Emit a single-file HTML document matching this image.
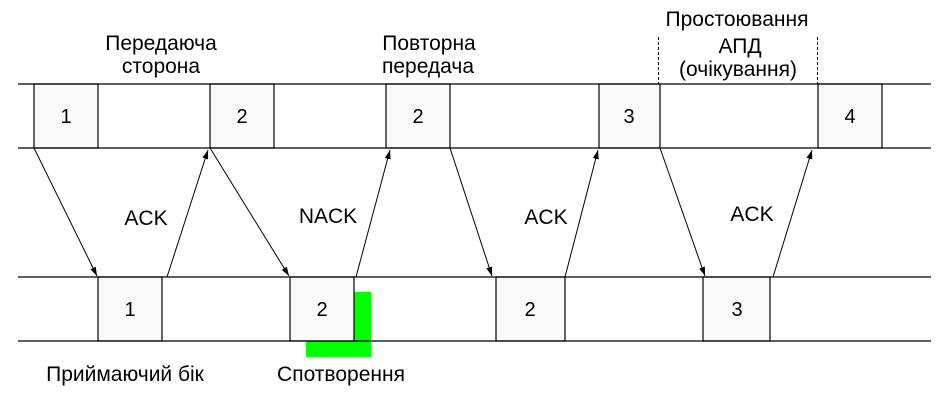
<!DOCTYPE html>
<html><head><meta charset="utf-8"><style>
html,body{margin:0;padding:0;background:#fff;}
svg{display:block;}
text{font-family:"Liberation Sans",sans-serif;font-size:21px;fill:#000;}
text.d{font-size:20px;}
</style></head><body>
<svg width="945" height="407" viewBox="0 0 945 407" xmlns="http://www.w3.org/2000/svg">
<defs>
<marker id="ah" markerWidth="10" markerHeight="8" refX="9" refY="3" orient="auto" markerUnits="userSpaceOnUse">
<path d="M0,0 L9,3 L0,6 Z" fill="#000"/>
</marker>
</defs>
<rect x="306" y="292" width="65" height="65" fill="#00ff00"/>
<g fill="#f9f9f9" stroke="#000" stroke-width="1.2">
<rect x="34" y="84" width="64" height="64"/>
<rect x="210" y="84" width="64" height="64"/>
<rect x="386" y="84" width="64" height="64"/>
<rect x="599" y="84" width="61" height="64"/>
<rect x="818" y="84" width="64" height="64"/>
<rect x="98" y="277" width="64" height="64"/>
<rect x="290" y="277" width="64" height="64"/>
<rect x="496" y="277" width="69" height="64"/>
<rect x="703" y="277" width="67" height="64"/>
</g>
<g stroke="#000" stroke-width="1.2">
<line x1="18" y1="84" x2="931" y2="84"/>
<line x1="18" y1="148" x2="931" y2="148"/>
<line x1="18" y1="277" x2="931" y2="277"/>
<line x1="18" y1="341" x2="931" y2="341"/>
</g>
<g stroke="#000" stroke-width="1" stroke-dasharray="3,2">
<line x1="658.5" y1="37" x2="658.5" y2="84"/>
<line x1="817.5" y1="37" x2="817.5" y2="84"/>
</g>
<g stroke="#000" stroke-width="1" marker-end="url(#ah)">
<line x1="34" y1="148" x2="97" y2="276"/>
<line x1="167" y1="277" x2="208" y2="150"/>
<line x1="210" y1="148" x2="289" y2="276"/>
<line x1="356" y1="277" x2="390" y2="150"/>
<line x1="450" y1="148" x2="492" y2="276"/>
<line x1="565" y1="277" x2="598" y2="150"/>
<line x1="660" y1="148" x2="705" y2="276"/>
<line x1="773" y1="277" x2="812" y2="150"/>
</g>
<g text-anchor="middle">
<text class="d" x="66" y="123">1</text>
<text class="d" x="242" y="123">2</text>
<text class="d" x="418" y="123">2</text>
<text class="d" x="629" y="123">3</text>
<text class="d" x="850" y="123">4</text>
<text class="d" x="130" y="316">1</text>
<text class="d" x="322" y="316">2</text>
<text class="d" x="530" y="316">2</text>
<text class="d" x="737" y="316">3</text>
<text x="146" y="225">ACK</text>
<text x="328" y="223">NACK</text>
<text x="546" y="224">ACK</text>
<text x="752" y="221">ACK</text>
<text x="161" y="50">Передаюча</text>
<text x="161" y="73">сторона</text>
<text x="429" y="50">Повторна</text>
<text x="428" y="73">передача</text>
<text x="737" y="26">Простоювання</text>
<text x="740" y="53">АПД</text>
<text x="738" y="76">(очікування)</text>
<text x="125" y="381">Приймаючий бік</text>
<text x="341" y="381">Спотворення</text>
</g>
</svg>
</body></html>
